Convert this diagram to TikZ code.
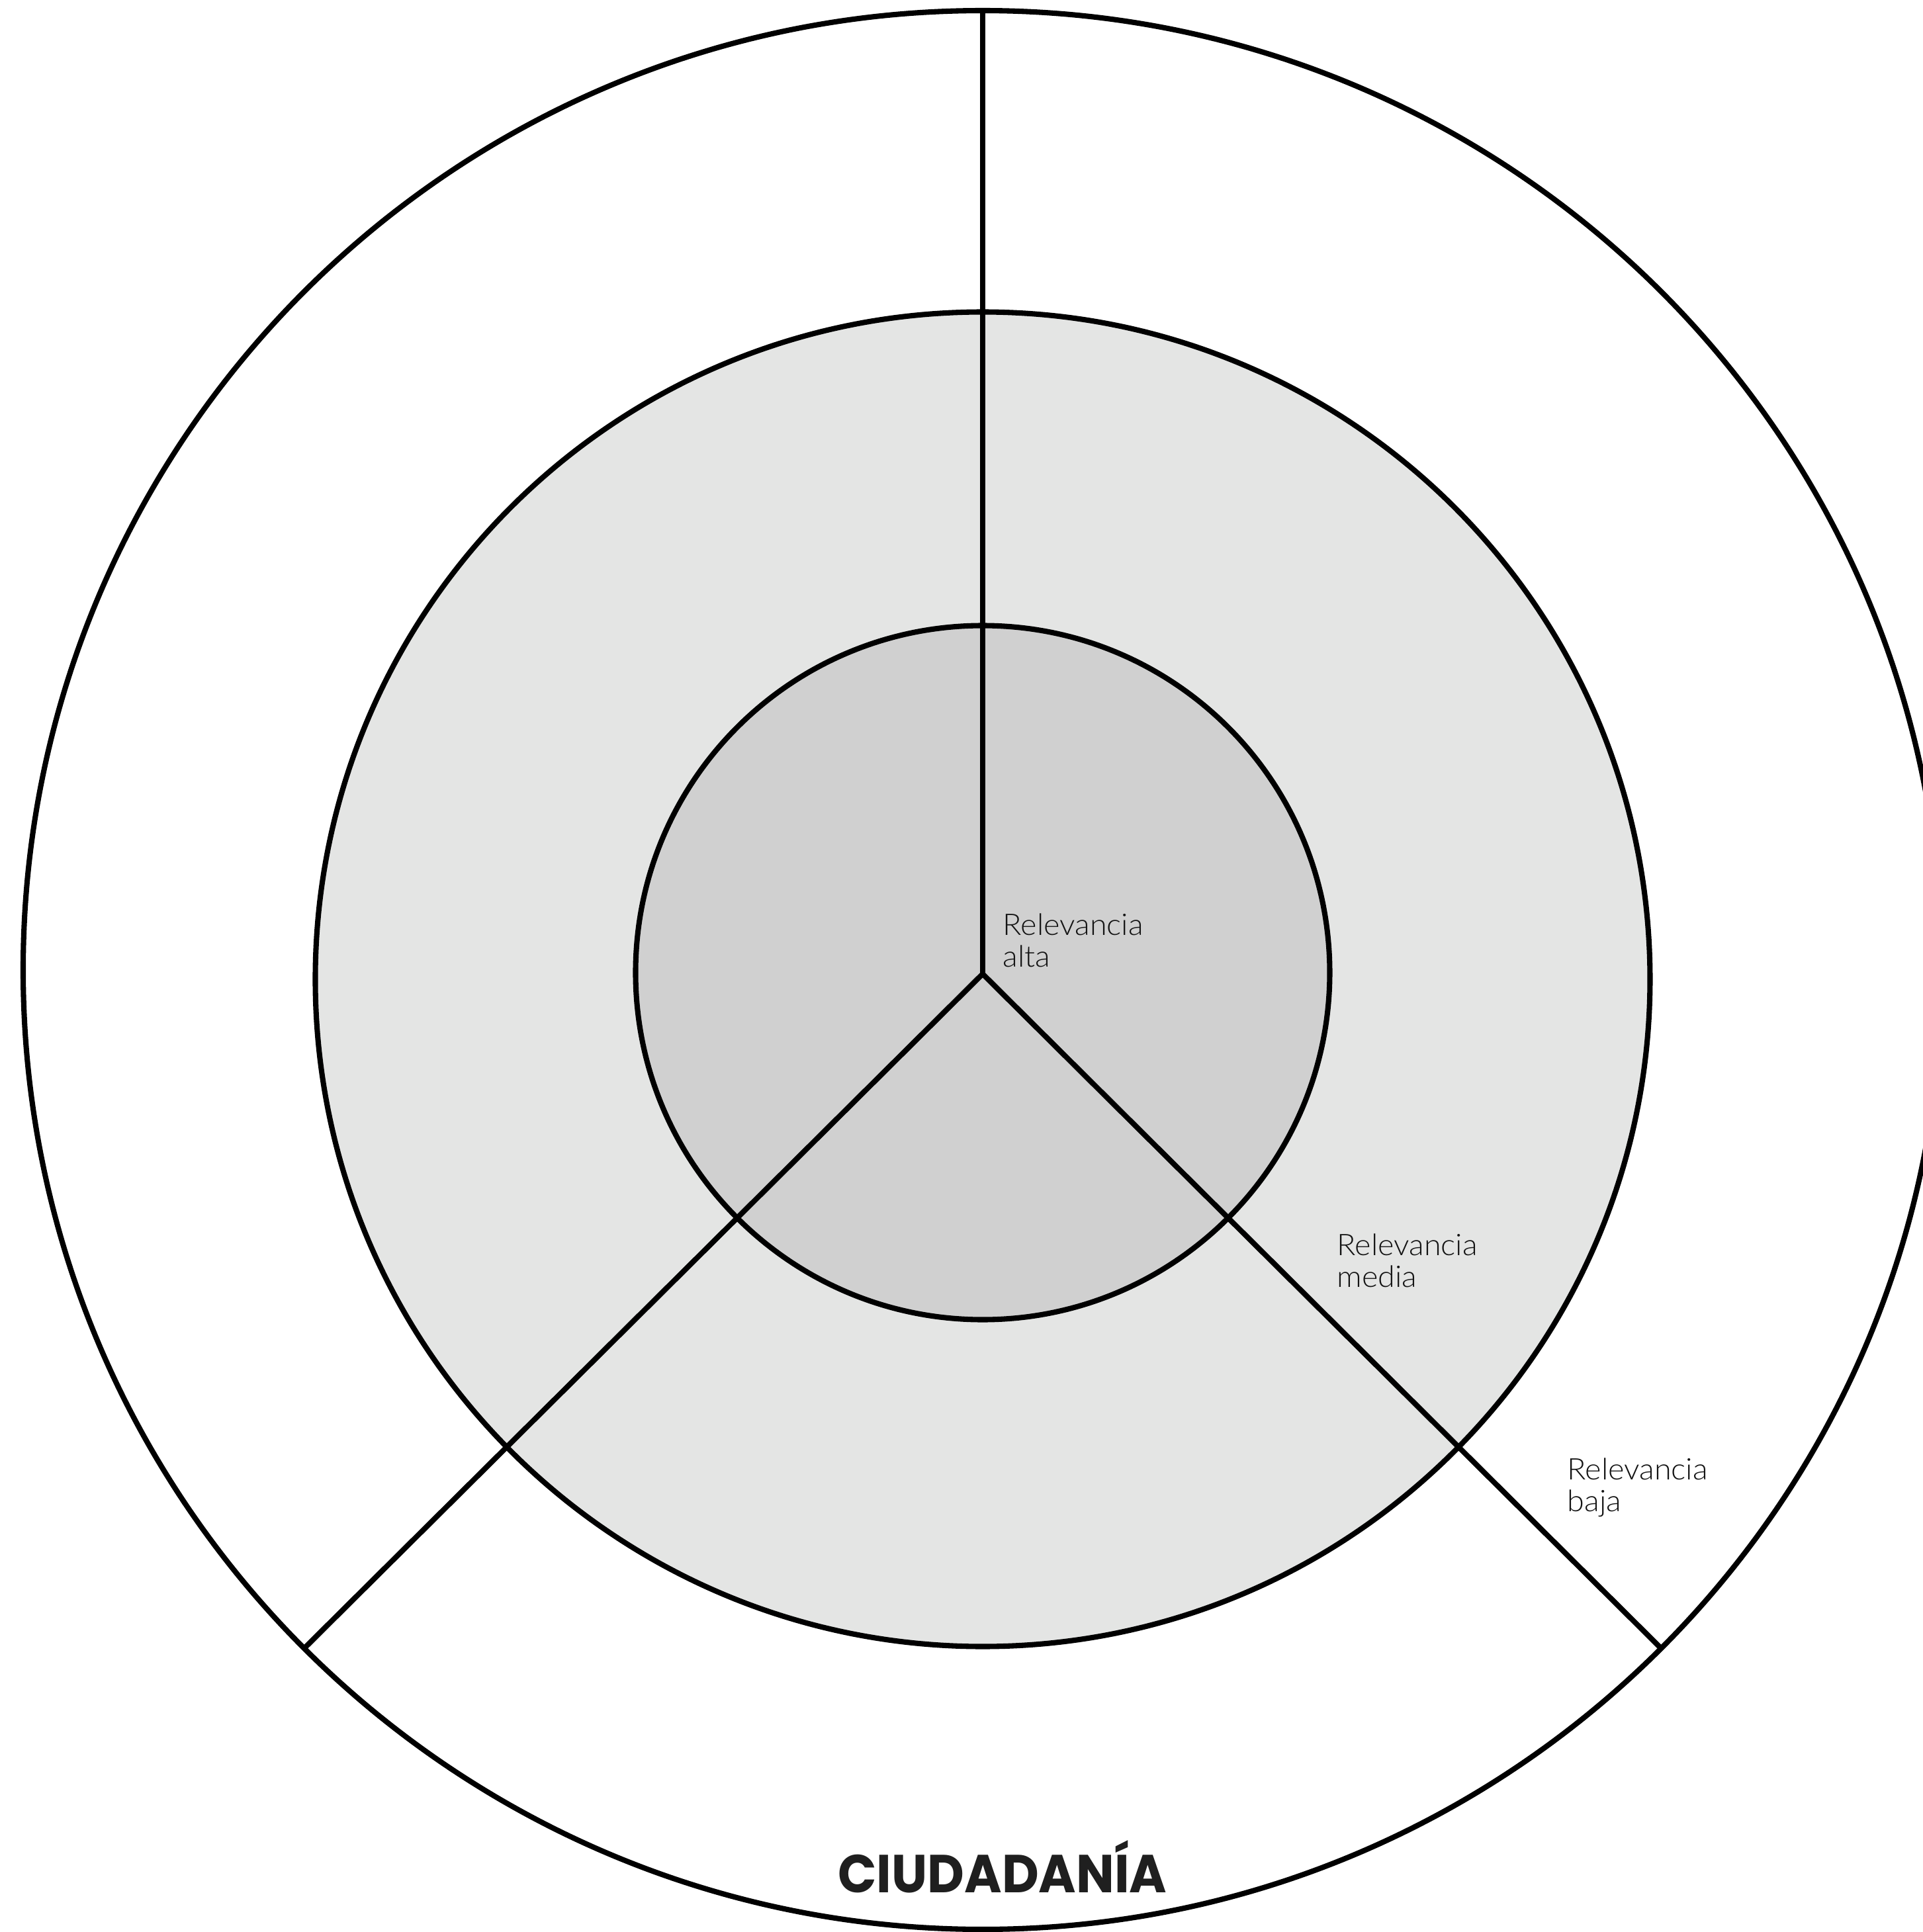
\documentclass[tikz,border=0pt]{standalone}
\usepackage{fontspec}
\setmainfont{Lato}
\newfontfamily\labelfont{Lato Light}[FakeStretch=1.04]
\newfontfamily\titlefont{Poppins}[FakeStretch=0.95]
\usetikzlibrary{positioning}

\definecolor{ringmid}{RGB}{228,229,228}
\definecolor{ringcore}{RGB}{208,208,208}

\begin{document}
\begin{tikzpicture}[
    ring/.style={
        draw=black, line width=2.3pt,
        circle, inner sep=0pt, outer sep=0pt
    },
    spoke/.style={draw=black, line width=2.3pt},
    level/.style={
        font=\labelfont\fontsize{12.8}{13.6}\selectfont,
        align=left, anchor=north west, inner sep=0pt,
        text=black!92
    },
    heading/.style={
        font=\titlefont\bfseries\fontsize{23}{26}\selectfont,
        anchor=base, inner sep=0pt, text=black!88
    }
]
\useasboundingbox (-14.85,-14.48) rectangle (14.21,14.72);

% ===== RINGS =====
\node[ring, fill=white, minimum size=29cm] (outer) at (0,0.06) {};
\node[ring, fill=ringmid, minimum size=20.17cm] (middle) at (0,-0.08) {};
\node[ring, fill=ringcore, minimum size=10.49cm] (inner) at (0,0.02) {};

% ===== SPOKES =====
\coordinate (hub) at (0,0);
\draw[spoke] (hub) -- (outer.90);
\draw[spoke] (hub) -- (outer.-135.1);
\draw[spoke] (hub) -- (outer.-45.1);

% ===== LABELS =====
\node[level] (alta) at (0.30,0.92) {Relevancia\\alta};
\node[level] (media) at (5.35,-3.92) {Relevancia\\media};
\node[level] (baja) at (8.83,-7.31) {Relevancia\\baja};

\node[heading] (ciudadania) at (0.30,-13.88) {CIUDADANÍA};

\end{tikzpicture}
\end{document}
